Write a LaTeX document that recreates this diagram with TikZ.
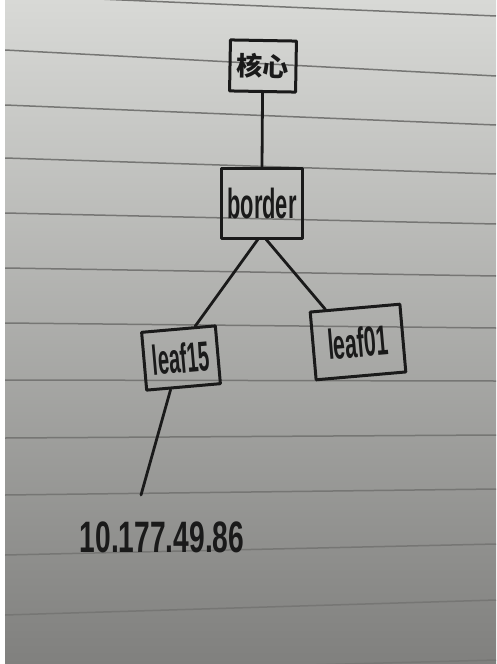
\documentclass[tikz,border=0pt]{standalone}
\usepackage{fontspec}
\setmainfont{Liberation Sans}
\newfontfamily\cjk{Noto Sans CJK SC}
\usetikzlibrary{calc}
\definecolor{ink}{HTML}{1A1A1A}
\definecolor{rule}{HTML}{767674}
\definecolor{papertop}{RGB}{216,217,214}
\definecolor{papermid}{RGB}{188,188,186}
\definecolor{paperbot}{RGB}{128,128,126}
\newcommand{\hw}[2]{\scalebox{#1}[1]{#2}}
\begin{document}
\begin{tikzpicture}[x=1pt,y=-1pt,
  hbox/.style={draw=ink,line width=3pt,line join=round,inner sep=0pt,text=ink},
  hline/.style={draw=ink,line width=2.8pt,line cap=round},
  ruled/.style={draw=rule,line width=1.5pt}]
\useasboundingbox (0,0) rectangle (496,664);
% paper
\shade[top color=papertop, middle color=papermid, bottom color=paperbot] (0,0) rectangle (496,664);
\fill[white] (0,0) rectangle (5,664);
\begin{scope}
\clip (5,0) rectangle (496,664);
\foreach \l/\r in {-5/16,50/76,105/125,158/174,213/224,268/276,323/328,380/381,438/435,495/489,555/544,615/600,673/660}
  \draw[ruled] (5,\l) -- (496,\r);
\end{scope}
% boxes
\node[hbox,minimum width=66pt,minimum height=51pt,rotate=-1] (core) at (263,66) {\fontsize{26}{26}\selectfont\cjk\bfseries 核心};
\node[hbox,minimum width=81pt,minimum height=70pt] (border) at (262,203) {\fontsize{42}{42}\selectfont\bfseries\hw{0.52}{border}};
\node[hbox,minimum width=74pt,minimum height=58pt,rotate=5] (leaf15) at (181,358) {\fontsize{42}{42}\selectfont\bfseries\hw{0.48}{leaf15}};
\node[hbox,minimum width=90pt,minimum height=68pt,rotate=5] (leaf01) at (358,342) {\fontsize{42}{42}\selectfont\bfseries\hw{0.51}{leaf01}};
\node[text=ink,inner sep=0pt] (ip) at (162,537) {\fontsize{44}{44}\selectfont\bfseries\hw{0.64}{10.177.49.86}};
\coordinate (ipend) at (141,495);
% connectors
\draw[hline] (core.south) -- (border.north);
\draw[hline] ($(border.south west)!0.45!(border.south east)$) -- ($(leaf15.north west)!0.72!(leaf15.north east)$);
\draw[hline] ($(border.south west)!0.55!(border.south east)$) -- ($(leaf01.north west)!0.18!(leaf01.north east)$);
\draw[hline] ($(leaf15.south west)!0.33!(leaf15.south east)$) -- (ipend);
\end{tikzpicture}
\end{document}
